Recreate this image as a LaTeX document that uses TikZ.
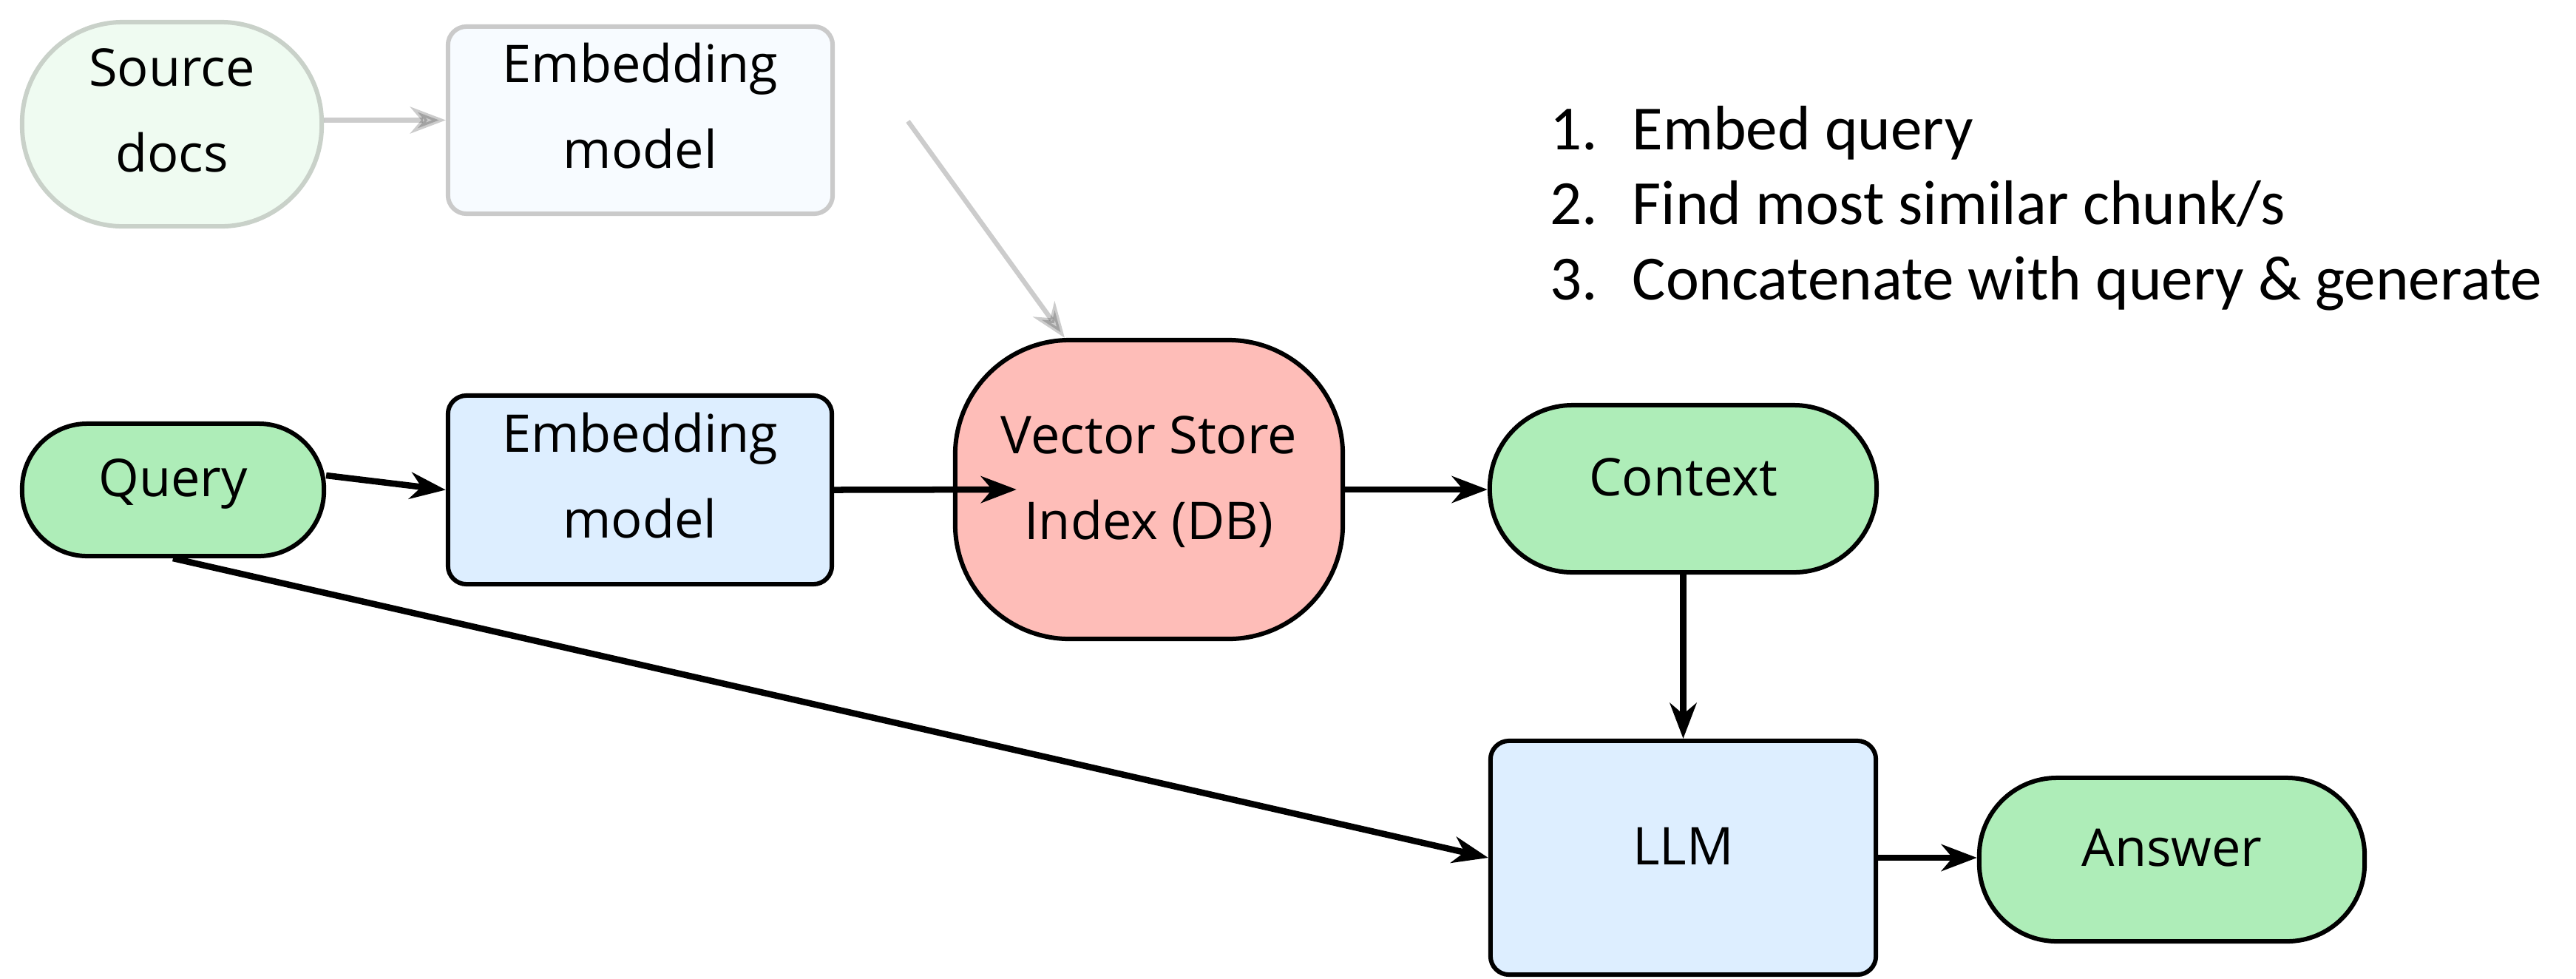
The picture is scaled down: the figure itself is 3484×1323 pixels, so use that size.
\documentclass[tikz,border=0pt]{standalone}
\usepackage{fontspec}
\setmainfont{Open Sans}
\newfontfamily\listfont{Carlito}
\usetikzlibrary{arrows.meta}

\definecolor{termgreen}{HTML}{AEEDB8}
\definecolor{procblue}{HTML}{DDEEFF}
\definecolor{storepink}{HTML}{FEBDB8}
\definecolor{fadegreen}{HTML}{EFFBF1}
\definecolor{fadeblue}{HTML}{F7FBFF}
\definecolor{fadeedgegreen}{HTML}{C9D1C9}
\definecolor{fadeedge}{HTML}{CACACA}

\begin{document}
\begin{tikzpicture}[x=0.01cm,y=-0.01cm,
  txt/.style={font=\fontsize{20}{33}\selectfont, align=center, inner sep=0pt},
  box/.style={draw=black, line width=0.06cm, inner sep=0pt, txt},
  oneline/.style={text height=0.40cm, text depth=0.22cm},
  shp/.style n args={3}{minimum width=#1cm, minimum height=#2cm, rounded corners=#3cm},
  term/.style={box, fill=termgreen},
  proc/.style={box, fill=procblue},
  store/.style={box, fill=storepink},
  faded/.style={box, line width=0.06cm},
  tipshape/.style={-{Stealth[length=0.48cm,width=0.36cm,inset=0.15cm]}},
  flow/.style={tipshape, line width=0.085cm, draw=black},
  fadeflow/.style={tipshape, line width=0.065cm, draw=black, opacity=0.2},
  listtext/.style={font=\listfont\fontsize{24.2}{28}\selectfont, anchor=base west, inner sep=0pt}
]
\useasboundingbox (0,0) rectangle (3484,1323);

% indexing branch (shown faded)
\node[faded, draw=fadeedgegreen, fill=fadegreen, shp={4.05}{2.76}{1.36},
  label={[txt, name=srctxt, yshift=0.19cm]center:Source\\docs}] (src) at (232.5,168) {};
\node[faded, draw=fadeedge, fill=fadeblue, shp={5.20}{2.53}{0.25},
  label={[txt, name=emb1txt, yshift=0.19cm]center:Embedding\\model}] (emb1) at (866,162.5) {};
\coordinate (idxfeed) at (1228,164);

% query branch
\node[term, oneline, shp={4.08}{1.79}{0.88}] (qry) at (234,662.5) {Query};
\node[proc, shp={5.19}{2.55}{0.25},
  label={[txt, name=emb2txt, yshift=0.19cm]center:Embedding\\model}] (emb2) at (865.5,662.5) {};
\node[store, shp={5.24}{4.04}{1.55},
  label={[txt, name=vstxt, yshift=0.10cm]center:Vector Store\\Index (DB)}] (vs) at (1554,662) {};
\node[term, oneline, shp={5.23}{2.26}{1.12}] (ctx) at (2276.5,661) {Context};
\node[proc, oneline, shp={5.21}{3.16}{0.25}] (llm) at (2276.5,1160) {LLM};
\node[term, oneline, shp={5.21}{2.21}{1.05}] (ans) at (2937.5,1162.5) {Answer};

% steps
\node[listtext] (n1) at (2096,202) {1.};
\node[listtext] (s1) at (2207,202) {Embed query};
\node[listtext] (n2) at (2096,303) {2.};
\node[listtext] (s2) at (2207,303) {Find most similar chunk/s};
\node[listtext] (n3) at (2096,405) {3.};
\node[listtext] (s3) at (2207,405) {Concatenate with query \& generate};

% connectors
\draw[fadeflow] (src.east |- emb1.west) -- (emb1.west);
\draw[fadeflow] (idxfeed) -- ([xshift=-1.14cm]vs.north);
\draw[flow] ([yshift=0.195cm]qry.east) -- (emb2.west);
\draw[flow] (emb2.east) -- ([xshift=0.86cm]vs.west);
\draw[flow] (vs.east) -- (vs.east -| ctx.west);
\draw[flow] (ctx.south) -- (llm.north);
\draw[flow] (qry.south) -- (llm.west);
\draw[flow] (llm.east) -- (llm.east -| ans.west);
\end{tikzpicture}
\end{document}
